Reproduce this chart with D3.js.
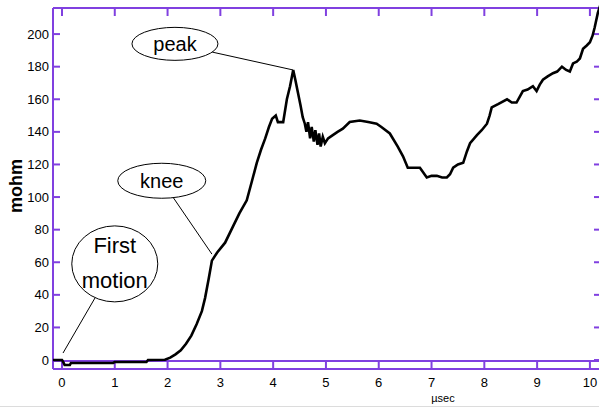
<!DOCTYPE html>
<html>
<head>
<meta charset="utf-8">
<script src="https://cdn.jsdelivr.net/npm/d3@7"></script>
<style>
  body { margin: 0; background: #fff; }
  svg { display: block; }
</style>
</head>
<body>
<svg width="599" height="408"></svg>
<script>
// Trace readings (x in µsec, y in mohm)
let traceX = [-0.17, 0.0, 0.02, 0.05, 0.15, 0.17, 0.97, 1.0, 1.6, 1.63, 1.95, 2.05, 2.15, 2.25, 2.35, 2.45,
  2.55, 2.65, 2.71, 2.78, 2.84, 2.94, 3.09, 3.24, 3.36, 3.5, 3.6, 3.69, 3.77, 3.85, 3.92, 3.98, 4.05, 4.09,
  4.19, 4.26, 4.32, 4.38, 4.42, 4.47, 4.52, 4.56, 4.6, 4.63, 4.66, 4.7, 4.73, 4.77, 4.8, 4.84, 4.87, 4.9,
  4.94, 4.98, 5.04, 5.13, 5.22, 5.32, 5.45, 5.64, 5.8, 5.96, 6.05, 6.21, 6.36, 6.46, 6.55, 6.65, 6.78, 6.91,
  7.0, 7.1, 7.2, 7.29, 7.35, 7.41, 7.5, 7.6, 7.67, 7.73, 7.86, 7.95, 8.05, 8.1, 8.14, 8.26, 8.43, 8.52, 8.61,
  8.73, 8.82, 8.92, 8.99, 9.05, 9.11, 9.2, 9.3, 9.38, 9.47, 9.55, 9.62, 9.68, 9.75, 9.81, 9.87, 9.94, 10.0,
  10.05, 10.09, 10.15, 10.2];
let traceY = [0, 0, -1, -3, -3, -1.8, -1.8, -1.2, -1.2, 0, 0.2, 1.5, 3.5, 6, 10, 15,
  22, 30, 38, 50, 61, 66, 72, 82, 90, 98, 110, 121, 129, 136, 143, 148, 150, 146,
  146, 160, 168, 178, 172, 164, 156, 149, 145, 140, 146, 136, 143, 134, 141, 132, 139, 131,
  137, 133, 136, 138, 140, 142, 146, 147, 146, 145, 143, 139, 131, 125, 118, 118, 118, 112,
  113, 113, 112, 112, 114, 118, 120, 121, 128, 133, 138, 141, 145, 150, 155, 157, 160, 158, 158,
  165, 166, 168, 165, 169, 172, 174, 176, 177, 180, 178, 177, 182, 183, 185, 191, 193, 195,
  199, 204, 213, 218];

let xTicks = [0, 1, 2, 3, 4, 5, 6, 7, 8, 9, 10];
let yTicks = [0, 20, 40, 60, 80, 100, 120, 140, 160, 180, 200];

// Callouts: label lines, ellipse centre and the point they mark (data units)
let noteLabels = [['peak'], ['knee'], ['First', 'motion']];
let noteCentre = [[2.14, 194], [1.89, 110], [1.0, 59]];
let noteTarget = [[4.375, 178], [2.84, 65], [0.02, 4.3]];

let svg = d3.select('svg');
let purple = '#8040e0';
let pLeft = 53, pTop = 8, pRight = 601, pBottom = 369;

let x = d3.scaleLinear().domain([-0.17, 10.21]).range([pLeft, pRight]);
let y = d3.scaleLinear().domain([-5.5, 216]).range([pBottom, pTop]);

let data = traceX.map((d, i) => [d, traceY[i]]);

// faint border at the foot of the picture
svg.append('line')
    .attr('x1', 0).attr('x2', 599).attr('y1', 406.5).attr('y2', 406.5)
    .style('stroke', '#dcdcdc').style('stroke-width', 1);

// Frame lines
let frame = svg.append('g').style('stroke', purple).style('stroke-width', 2).style('fill', 'none');
frame.append('line').attr('x1', pLeft).attr('x2', pRight).attr('y1', pTop).attr('y2', pTop);
frame.append('line').attr('x1', pLeft).attr('x2', pLeft).attr('y1', pTop).attr('y2', pBottom);
frame.append('line').attr('x1', pLeft).attr('x2', pRight).attr('y1', pBottom).attr('y2', pBottom);
frame.append('line').attr('x1', pLeft).attr('x2', pRight).attr('y1', y(0) + 1).attr('y2', y(0) + 1);
frame.append('line').attr('x1', pRight).attr('x2', pRight).attr('y1', pTop).attr('y2', pBottom);

// X ticks: top (pointing down) and bottom (between zero line and frame)
frame.selectAll('.xt-top').data(xTicks).enter().append('line')
    .attr('x1', d => x(d)).attr('x2', d => x(d)).attr('y1', pTop).attr('y2', pTop + 8);
frame.selectAll('.xt-bot').data(xTicks).enter().append('line')
    .attr('x1', d => x(d)).attr('x2', d => x(d)).attr('y1', y(0) + 1).attr('y2', pBottom);

// Y ticks left and right, inward
frame.selectAll('.yt-l').data(yTicks).enter().append('line')
    .attr('x1', pLeft).attr('x2', pLeft + 7).attr('y1', d => y(d)).attr('y2', d => y(d));
frame.selectAll('.yt-r').data(yTicks).enter().append('line')
    .attr('x1', pRight - 7).attr('x2', pRight).attr('y1', d => y(d)).attr('y2', d => y(d));

// Tick labels
svg.selectAll('.ylab').data(yTicks).enter().append('text')
    .attr('x', pLeft - 4).attr('y', d => y(d) + 4.5)
    .attr('text-anchor', 'end')
    .style('font-family', "'Liberation Sans Narrow', 'Arial Narrow', 'Liberation Sans', sans-serif")
    .style('font-size', '13px')
    .text(d => d);

svg.selectAll('.xlab').data(xTicks).enter().append('text')
    .attr('x', d => x(d)).attr('y', 387)
    .attr('text-anchor', 'middle')
    .style('font-family', "'Liberation Sans', Arial, sans-serif")
    .style('font-size', '13px')
    .text(d => d);

// Axis titles
svg.append('text')
    .attr('text-anchor', 'middle')
    .attr('transform', 'translate(22,' + 186 + ')rotate(-90)')
    .style('font-family', "'Liberation Sans', Arial, sans-serif")
    .style('font-size', '18px')
    .style('font-weight', 'bold')
    .text('mohm');

svg.append('text')
    .attr('text-anchor', 'middle')
    .attr('x', 443).attr('y', 402)
    .style('font-family', "'Liberation Sans', Arial, sans-serif")
    .style('font-size', '11px')
    .text('µsec');

// The trace
svg.append('path')
    .datum(data)
    .attr('d', d3.line().x(d => x(d[0])).y(d => y(d[1])))
    .style('fill', 'none')
    .style('stroke', '#000')
    .style('stroke-width', 2.6)
    .style('stroke-linejoin', 'miter');

// Callouts
let radii = [[43, 16.5], [44, 17.5], [43, 38]];
let notes = svg.append('g');
noteLabels.forEach((lines, i) => {
    let cx = x(noteCentre[i][0]), cy = y(noteCentre[i][1]);
    let tx = x(noteTarget[i][0]), ty = y(noteTarget[i][1]);
    let rx = radii[i][0], ry = radii[i][1];
    // leader line starts on the ellipse edge facing the target
    let dx = tx - cx, dy = ty - cy;
    let t = 1 / Math.sqrt((dx / rx) * (dx / rx) + (dy / ry) * (dy / ry));
    notes.append('line')
        .attr('x1', cx + dx * t).attr('y1', cy + dy * t)
        .attr('x2', tx).attr('y2', ty)
        .style('stroke', '#000').style('stroke-width', 1);
    notes.append('ellipse')
        .attr('cx', cx).attr('cy', cy).attr('rx', rx).attr('ry', ry)
        .style('fill', '#fff').style('stroke', '#000').style('stroke-width', 1);
    let size = lines.length > 1 ? 22 : 20;
    let gap = 35;
    lines.forEach((s, j) => {
        notes.append('text')
            .attr('x', cx)
            .attr('y', cy + 7 + (j - (lines.length - 1) / 2) * gap)
            .attr('text-anchor', 'middle')
            .style('font-family', "'Liberation Sans', Arial, sans-serif")
            .style('font-size', size + 'px')
            .text(s);
    });
});
</script>
</body>
</html>
